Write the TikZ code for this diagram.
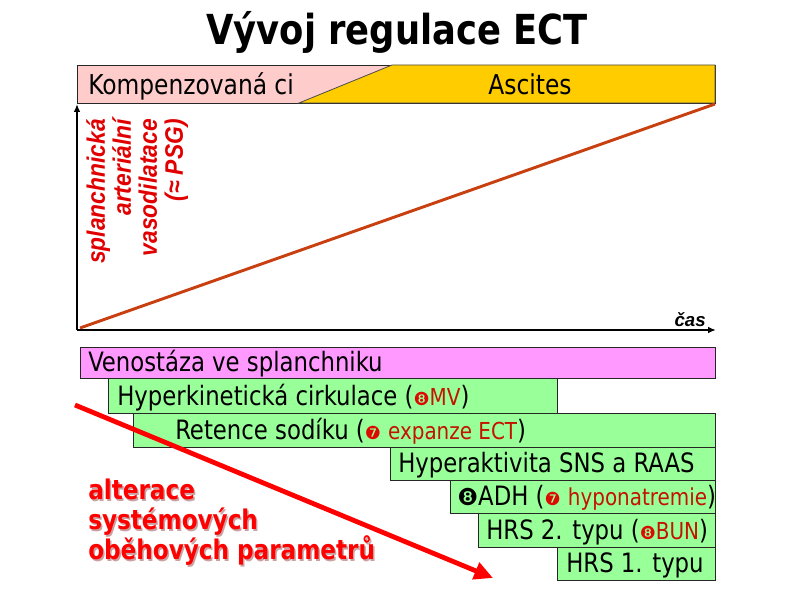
\documentclass[tikz,border=0pt]{standalone}
\usepackage{fontspec}
\setmainfont{DejaVu Sans Condensed}
\newfontfamily\tah{DejaVu Sans Condensed}[FakeStretch=0.95]
\newfontfamily\arl{Liberation Sans}
\newfontfamily\arln{Liberation Sans}[FakeStretch=0.9]
\newfontfamily\dv{DejaVu Sans}
\usetikzlibrary{arrows.meta}
\definecolor{pinkbar}{RGB}{255,204,204}
\definecolor{gold}{RGB}{255,204,0}
\definecolor{mag}{RGB}{255,153,255}
\definecolor{grn}{RGB}{153,255,153}
\definecolor{brn}{RGB}{200,64,16}
\definecolor{dred}{RGB}{195,20,0}
\definecolor{cred}{RGB}{220,10,0}
\definecolor{lblred}{RGB}{225,0,0}
\definecolor{shad}{RGB}{150,70,70}
\newcommand\smr[1]{{\color{dred}\fontsize{17.5}{19}\selectfont #1}}
\newcommand\cir[1]{{\color{cred}\dv\fontsize{13.5}{14}\selectfont #1}}
\begin{document}
\begin{tikzpicture}[x=0.75pt,y=-0.75pt,
  box/.style={draw=black!85, line width=0.6pt, anchor=north west, inner sep=0pt},
  btxt/.style={anchor=base west, inner sep=0pt, font=\tah\fontsize{20}{22}\selectfont},
  axis/.style={line width=1.8pt, -{Latex[length=6pt,width=5pt]}},
  alttxt/.style={anchor=north west, inner sep=0pt, align=left,
    font=\tah\bfseries\fontsize{20.3}{22.5}\selectfont}]
\useasboundingbox (0,0) rectangle (794,595);
% title
\node[anchor=base, inner sep=0pt, font=\tah\bfseries\fontsize{31}{33}\selectfont] (title) at (397,45) {Vývoj regulace ECT};
% top bar
\node[box, fill=pinkbar, minimum width=478.5pt, minimum height=28.5pt] (bar) at (77,65) {};
\filldraw[fill=gold, draw=black!70, line width=0.6pt] (392,65) -- (715,65) -- (715,103) -- (299,103) -- cycle;
\node[anchor=base west, inner sep=0pt, font=\tah\fontsize{20.5}{22}\selectfont] (komp) at (88,95) {Kompenzovaná ci};
\node[anchor=base, inner sep=0pt, font=\tah\fontsize{20.5}{22}\selectfont] (asc) at (530,95) {Ascites};
% axes
\coordinate (O) at (77,330);
\coordinate (Ytop) at (77,104);
\coordinate (Xend) at (716,330);
\coordinate (Lend) at (715,104);
\draw[brn, line width=2.2pt] (80,328) -- (Lend);
\draw[axis] (O) -- (Ytop);
\draw[axis] (O) -- (Xend);
\node[anchor=north east, rotate=90, inner sep=0pt, align=right, text=lblred,
  font=\arln\bfseries\itshape\fontsize{19}{19.5}\selectfont] (ylab) at (86,119)
  {splanchnická\\arteriální\\vasodilatace\\(≈ PSG)};
\node[anchor=base east, inner sep=0pt, font=\arl\bfseries\itshape\fontsize{14}{16}\selectfont] (cas) at (706,327) {čas};
% boxes
\node[box, fill=mag, minimum width=476.25pt, minimum height=23.25pt] (b1) at (80,347) {};
\node[box, fill=grn, minimum width=336.75pt, minimum height=26.25pt] (b2) at (108,378) {};
\node[box, fill=grn, minimum width=436.5pt, minimum height=25.5pt] (b3) at (133,413) {};
\node[box, fill=grn, minimum width=243.75pt, minimum height=24.75pt] (b4) at (390,447) {};
\node[box, fill=grn, minimum width=198.75pt, minimum height=24.75pt] (b5) at (450,480) {};
\node[box, fill=grn, minimum width=177.75pt, minimum height=25.5pt] (b6) at (478,513) {};
\node[box, fill=grn, minimum width=118.5pt, minimum height=24.75pt] (b7) at (557,547) {};
\node[btxt] (t1) at (88,372) {Venostáza ve splanchniku};
\node[btxt] (t2) at (117,406) {Hyperkinetická cirkulace (\cir{❽}\smr{MV})};
\node[btxt] (t3) at (175,440) {Retence sodíku (\cir{❼} \smr{expanze ECT})};
\node[btxt] (t4) at (398,473) {Hyperaktivita SNS a RAAS};
\node[btxt] (t5) at (457,506) {{\dv\fontsize{17.5}{18}\selectfont ❽}ADH (\cir{❼} \smr{hyponatremie})};
\node[btxt] (t6) at (486,540) {HRS 2. typu (\cir{❽}\smr{BUN})};
\node[btxt] (t7) at (566,573) {HRS 1. typu};
% red arrow and text
\coordinate (ra) at (75,405);
\coordinate (rb) at (493,578);
\draw[red, line width=3.6pt, -{Triangle[length=14pt,width=13pt]}] (ra) -- (rb);
\node[alttxt, text=shad, opacity=0.5] (altsh) at (89.5,480.5)
  {alterace\\systémových\\oběhových parametrů};
\node[alttxt, text=red] (alt) at (88,479)
  {alterace\\systémových\\oběhových parametrů};
\end{tikzpicture}
\end{document}
